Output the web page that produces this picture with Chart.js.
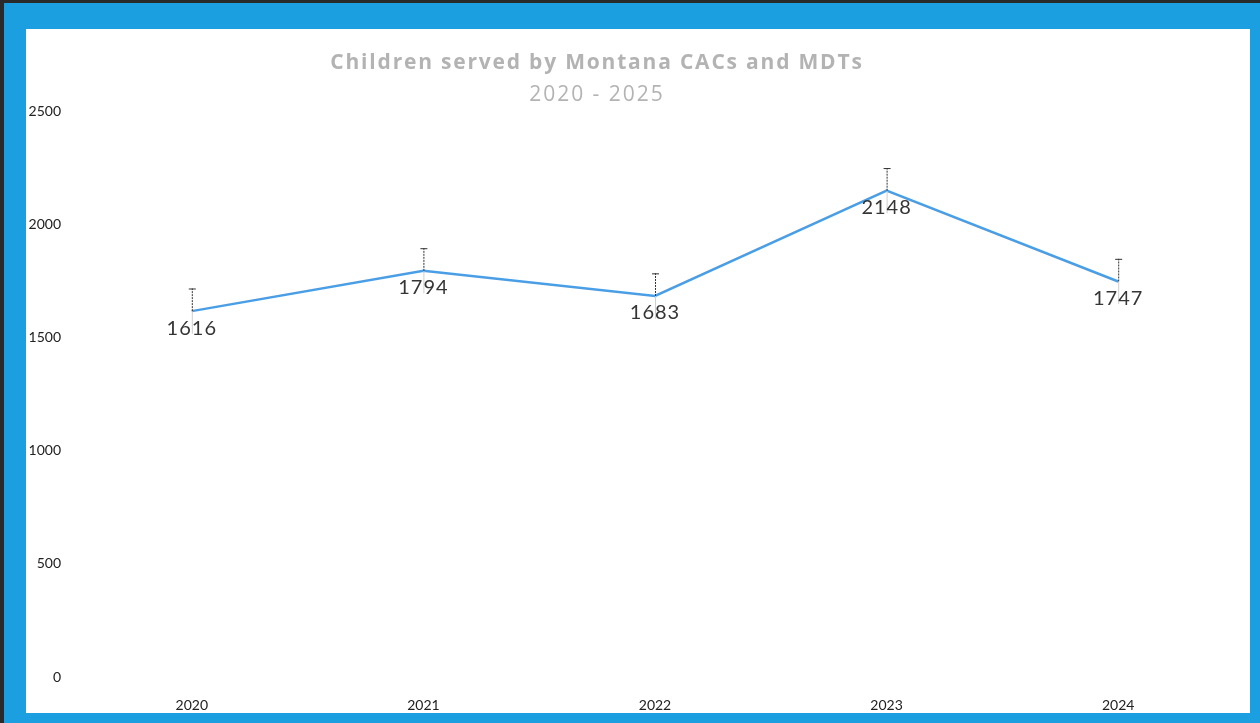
<!DOCTYPE html>
<html>
<head>
<meta charset="utf-8">
<script src="https://cdn.jsdelivr.net/npm/chart.js@4"></script>
<style>
    html, body { margin: 0; padding: 0; }
    body {
        width: 1260px;
        height: 723px;
        background: #2a2a2a;
        overflow: hidden;
    }
    #frame {
        position: absolute;
        left: 4px; top: 3px; right: 0; bottom: 0;
        background: #1b9fe0;
    }
    #inner {
        position: absolute;
        left: 26px; top: 29px;
        width: 1224px; height: 684px;
        background: #fff;
    }
</style>
</head>
<body>
<div id="frame"></div>
<div id="inner"><canvas id="myChart" width="1224" height="684"></canvas></div>
<script>
const years = ["2020", "2021", "2022", "2023", "2024"];
const children = [1616, 1794, 1683, 2148, 1747];
const errorUp = [100, 100, 100, 100, 100];
const yTicks = [0, 500, 1000, 1500, 2000, 2500];
const titleLines = ["Children served by Montana CACs and MDTs", "2020 - 2025"];

const gill = "'Lato', 'DejaVu Sans', sans-serif";

// error bars + value labels + title, drawn with the chart's own scales
const extras = {
    id: 'extras',
    afterDatasetsDraw(chart) {
        const ctx = chart.ctx;
        const x = chart.scales.x;
        const y = chart.scales.y;
        ctx.save();
        children.forEach((v, i) => {
            const px = x.getPixelForValue(i);
            const py = y.getPixelForValue(v);
            const top = y.getPixelForValue(v + errorUp[i]);
            const bot = y.getPixelForValue(v - errorUp[i]);
            // lower half (light)
            ctx.strokeStyle = '#cfcfcf';
            ctx.lineWidth = 1;
            ctx.setLineDash([]);
            ctx.beginPath();
            ctx.moveTo(px + 0.5, py);
            ctx.lineTo(px + 0.5, bot);
            ctx.stroke();
            // upper half (dark, dotted)
            ctx.strokeStyle = '#333';
            ctx.setLineDash([2, 1]);
            ctx.beginPath();
            ctx.moveTo(px + 0.5, py);
            ctx.lineTo(px + 0.5, top);
            ctx.stroke();
            ctx.setLineDash([]);
            ctx.beginPath();
            ctx.moveTo(px - 3, top + 0.5);
            ctx.lineTo(px + 4, top + 0.5);
            ctx.stroke();

            ctx.fillStyle = '#353535';
            ctx.font = "20px " + gill;
            ctx.letterSpacing = '1px';
            ctx.textAlign = 'center';
            ctx.textBaseline = 'top';
            ctx.fillText(String(v), px, py + 7);
        });

        ctx.fillStyle = '#b3b3b3';
        ctx.font = "bold 21px 'Open Sans', " + gill;
        ctx.letterSpacing = '1.8px';
        ctx.textAlign = 'center';
        ctx.textBaseline = 'middle';
        ctx.fillText(titleLines[0], 571, 34);
        ctx.font = "21px 'Open Sans', " + gill;
        ctx.letterSpacing = '2px';
        ctx.fillText(titleLines[1], 571, 66);
        ctx.restore();
    }
};

new Chart(document.getElementById('myChart'), {
    type: 'line',
    data: {
        labels: years,
        datasets: [{
            label: 'Children served',
            data: children,
            borderColor: '#4a9ee6',
            borderWidth: 2.5,
            pointRadius: 0,
            tension: 0,
            fill: false
        }]
    },
    options: {
        responsive: false,
        animation: false,
        layout: { padding: { top: 82, right: 16, left: 0, bottom: 0 } },
        plugins: {
            legend: { display: false },
            tooltip: { enabled: false }
        },
        scales: {
            x: {
                offset: true,
                grid: { display: false },
                border: { display: false },
                ticks: {
                    color: '#222',
                    font: { family: gill, size: 14 },
                    padding: 12,
                    maxRotation: 0
                },
                afterFit(scale) { scale.height = 36; }
            },
            y: {
                min: 0,
                max: 2500,
                grid: { display: false },
                border: { display: false },
                afterBuildTicks(scale) { scale.ticks = yTicks.map(v => ({ value: v })); },
                ticks: {
                    color: '#222',
                    font: { family: gill, size: 14 },
                    padding: 7,
                    callback: v => String(v)
                },
                afterFit(scale) { scale.width = 50; }
            }
        }
    },
    plugins: [extras]
});
</script>
</body>
</html>
